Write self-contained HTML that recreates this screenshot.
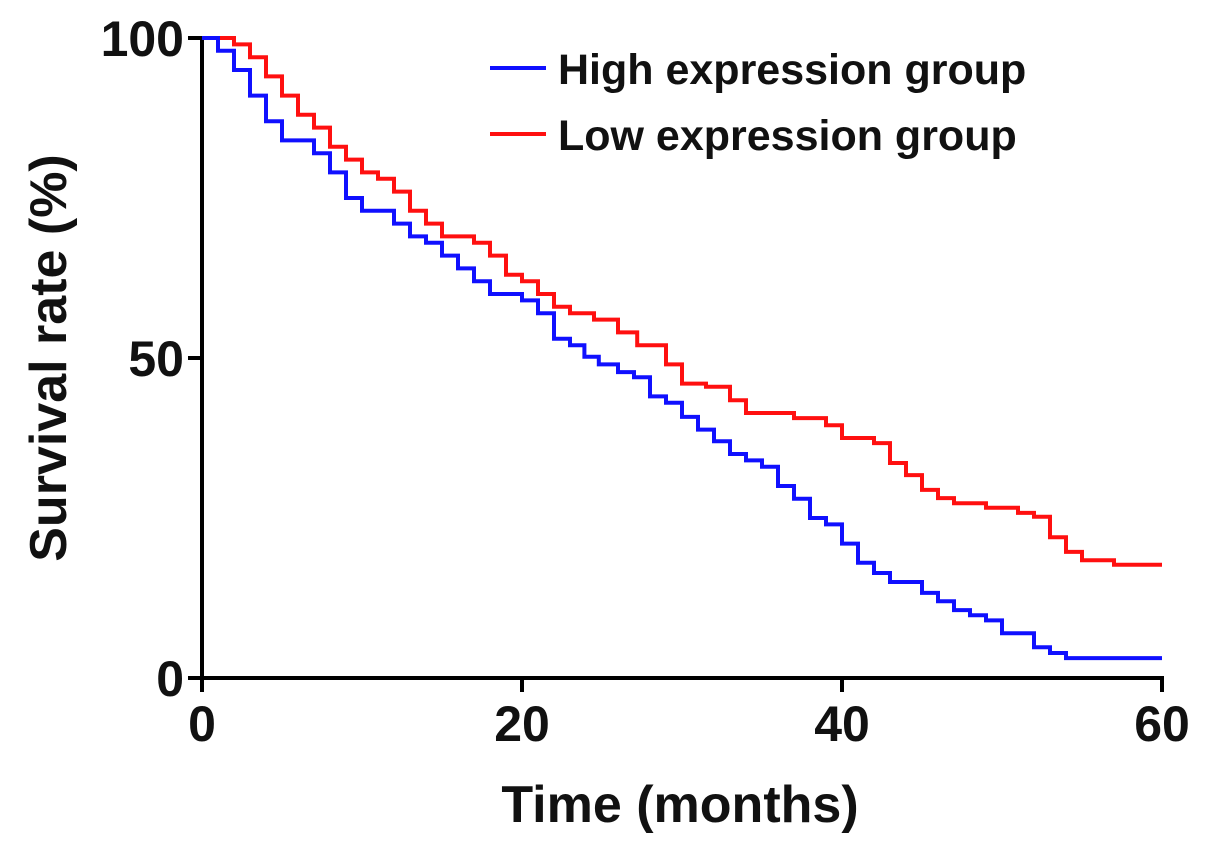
<!DOCTYPE html>
<html><head><meta charset="utf-8"><style>
body{margin:0;background:#fff}
svg text{font-family:"Liberation Sans",Arial,sans-serif;font-weight:bold;fill:#111}
</style></head><body>
<svg id="chart" width="1205" height="852">
<g id="axes"></g><g id="series"></g>
<g>
<line x1="490" y1="68" x2="546" y2="68" stroke="#1010ff" stroke-width="4"/>
<text x="558" y="84" font-size="43">High expression group</text>
<line x1="490" y1="134" x2="546" y2="134" stroke="#ff1010" stroke-width="4"/>
<text x="558" y="150" font-size="43">Low expression group</text>
</g>
<text x="680" y="822" font-size="52" text-anchor="middle">Time (months)</text>
<text transform="translate(66,358) rotate(-90)" font-size="52" text-anchor="middle">Survival rate (%)</text>
</svg>
<script>
const xTicks=[0,20,40,60];
const yTicks=[0,50,100];
const highTimes=[0,1,2,3,4,5,7,8,9,10,12,13,14,15,16,17,18,20,21,22,23,23.9,24.8,26,27,28,29,30,31,32,33,34,35,36,37,38,39,40,41,42,43,45,46,47,48,49,50,52,53,54,60];
const highVals=[100,98,95,91,87,84,82,79,75,73,71,69,68,66,64,62,60,59,57,53,52,50.2,49,47.8,47,44,43,40.8,38.8,37,35,34,33,30,28,25,24,21,18,16.4,15,13.3,12,10.6,9.8,9,7,4.8,3.9,3.1,3.1];
const lowTimes=[0,2,3,4,5,6,7,8,9,10,11,12,13,14,15,17,18,19,20,21,22,23,24.5,26,27.2,29,30,31.5,33,34,37,39,40,42,43,44,45,46,47,49,51,52,53,54,55,57,60];
const lowVals=[100,99,97,94,91,88,86,83,81,79,78,76,73,71,69,68,66,63,62,60,58,57,56,54,52,49,46,45.5,43.4,41.4,40.6,39.5,37.5,36.7,33.6,31.7,29.4,28.1,27.3,26.6,25.8,25.2,22,19.7,18.4,17.7,17.7];
const NS='http://www.w3.org/2000/svg';
const X=t=>202+t*16, Y=v=>678-v*6.4;
const ax=document.getElementById('axes'), se=document.getElementById('series');
function mk(tag,attrs,parent){const e=document.createElementNS(NS,tag);for(const k in attrs)e.setAttribute(k,attrs[k]);parent.appendChild(e);return e;}
let a=mk('line',{x1:202,y1:36,x2:202,y2:680,stroke:'#000','stroke-width':4},ax);


a=mk('line',{x1:200,y1:678,x2:1164,y2:678,stroke:'#000','stroke-width':4},ax);


xTicks.forEach(t=>{
 const l=mk('line',{x1:X(t),y1:678,x2:X(t),y2:692,stroke:'#000','stroke-width':4},ax);
 
 
 const tx=mk('text',{x:X(t),y:741,'font-size':50,'text-anchor':'middle'},ax);tx.textContent=t;
 
 
});
yTicks.forEach(v=>{
 const l=mk('line',{x1:188,y1:Y(v),x2:202,y2:Y(v),stroke:'#000','stroke-width':4},ax);
 
 
 const tx=mk('text',{x:184,y:Y(v)+18,'font-size':50,'text-anchor':'end'},ax);tx.textContent=v;
 
 
});
function step(ts,vs,color,name){
 let d='M'+X(ts[0])+' '+Y(vs[0]);
 for(let i=1;i<ts.length;i++){d+=' H'+X(ts[i])+' V'+Y(vs[i]);}
 const p=mk('path',{d:d,fill:'none',stroke:color,'stroke-width':4,'stroke-linejoin':'miter'},se);
 
 
}
step(lowTimes,lowVals,'#ff1010','low-expression-curve');
step(highTimes,highVals,'#1010ff','high-expression-curve');
</script>
</body></html>
